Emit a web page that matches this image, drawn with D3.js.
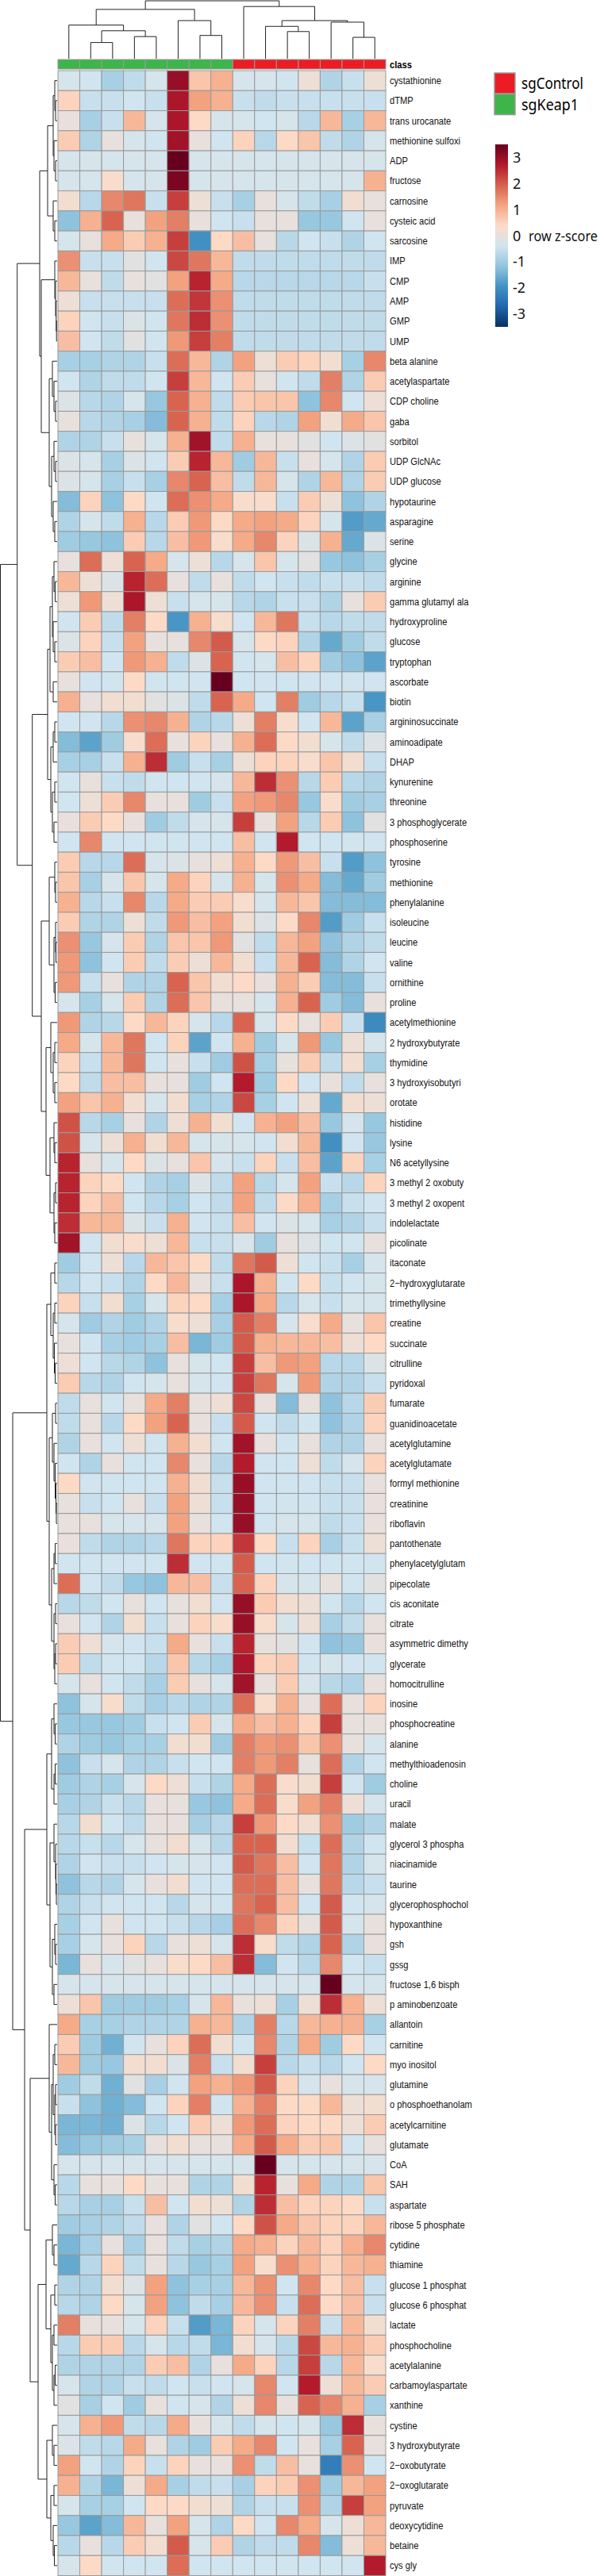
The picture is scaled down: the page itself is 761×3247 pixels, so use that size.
<!DOCTYPE html>
<html><head><meta charset="utf-8">
<script src="https://cdn.jsdelivr.net/npm/d3@7"></script>
<style>body{margin:0;background:#fff}svg{display:block}</style>
</head><body>
<svg id="chart" width="761" height="3247"></svg>
<script>
const rowLabels = ["cystathionine","dTMP","trans urocanate","methionine sulfoxi","ADP","fructose","carnosine","cysteic acid","sarcosine","IMP","CMP","AMP","GMP","UMP","beta alanine","acetylaspartate","CDP choline","gaba","sorbitol","UDP GlcNAc","UDP glucose","hypotaurine","asparagine","serine","glycine","arginine","gamma glutamyl ala","hydroxyproline","glucose","tryptophan","ascorbate","biotin","argininosuccinate","aminoadipate","DHAP","kynurenine","threonine","3 phosphoglycerate","phosphoserine","tyrosine","methionine","phenylalanine","isoleucine","leucine","valine","ornithine","proline","acetylmethionine","2 hydroxybutyrate","thymidine","3 hydroxyisobutyri","orotate","histidine","lysine","N6 acetyllysine","3 methyl 2 oxobuty","3 methyl 2 oxopent","indolelactate","picolinate","itaconate","2\u2212hydroxyglutarate","trimethyllysine","creatine","succinate","citrulline","pyridoxal","fumarate","guanidinoacetate","acetylglutamine","acetylglutamate","formyl methionine","creatinine","riboflavin","pantothenate","phenylacetylglutam","pipecolate","cis aconitate","citrate","asymmetric dimethy","glycerate","homocitrulline","inosine","phosphocreatine","alanine","methylthioadenosin","choline","uracil","malate","glycerol 3 phospha","niacinamide","taurine","glycerophosphochol","hypoxanthine","gsh","gssg","fructose 1,6 bisph","p aminobenzoate","allantoin","carnitine","myo inositol","glutamine","o phosphoethanolam","acetylcarnitine","glutamate","CoA","SAH","aspartate","ribose 5 phosphate","cytidine","thiamine","glucose 1 phosphat","glucose 6 phosphat","lactate","phosphocholine","acetylalanine","carbamoylaspartate","xanthine","cystine","3 hydroxybutyrate","2\u2212oxobutyrate","2\u2212oxoglutarate","pyruvate","deoxycytidine","betaine","cys gly"];

const colClass = ["sgKeap1","sgKeap1","sgKeap1","sgKeap1","sgKeap1","sgKeap1","sgKeap1","sgKeap1","sgControl","sgControl","sgControl","sgControl","sgControl","sgControl","sgControl"];
const classNames = ["sgControl","sgKeap1"];
const classColors = ["#ec1c24","#3db54a"];

const values = [
[-0.3,-0.4,-0.9,-0.6,-0.3,3.0,0.7,1.0,-0.3,-0.3,-0.4,0.1,-0.8,-0.5,0.1],
[0.5,-0.5,-0.5,-0.4,-0.5,2.8,1.2,1.0,-0.5,-0.6,-0.5,-0.5,-0.5,-0.5,-0.5],
[0,-0.9,-0.5,0.9,-0.3,2.8,0.4,-0.3,-0.3,-0.4,-0.3,-0.7,0.9,-0.9,0.9],
[0.6,-0.8,0,-0.3,-0.4,2.9,0,-0.4,0.5,-0.7,0.4,0.7,-0.6,-0.8,-0.3],
[-0.3,-0.3,-0.3,-0.3,-0.3,3.5,-0.3,-0.3,-0.3,-0.3,-0.3,-0.3,-0.3,-0.3,-0.3],
[-0.3,-0.3,0.3,-0.3,-0.3,3.3,-0.3,-0.3,-0.3,-0.3,-0.3,-0.3,-0.3,-0.3,1.0],
[0.2,-0.7,1.5,1.7,-0.5,2.3,0.1,-0.5,-0.9,0,-0.3,-0.6,-0.9,0.2,0],
[-1.2,1.0,1.9,0,1.2,1.6,0,-0.4,-0.5,0,0,-1.1,-1.1,-0.4,0],
[-0.3,0,1.1,0.6,1.0,2.3,-2.0,0.4,0.8,0,-0.7,-0.4,-0.5,-0.8,-0.4],
[1.4,-0.5,-0.5,-0.1,-0.4,2.2,1.7,0.9,-0.6,-0.6,-0.6,-0.6,-0.6,-0.6,-0.6],
[0.9,0,-0.6,0,-0.1,1.2,2.6,1.1,-0.7,-0.7,-0.7,-0.7,-0.7,-0.7,-0.5],
[0.1,-0.5,-0.5,-0.5,-0.5,1.8,2.4,1.4,-0.6,-0.6,-0.6,-0.6,-0.6,-0.6,-0.6],
[0.5,-0.4,-0.5,-0.2,-0.4,1.7,2.5,1.4,-0.6,-0.6,-0.6,-0.6,-0.6,-0.6,-0.6],
[0.8,-0.4,-0.6,-0.1,-0.4,1.3,2.3,1.6,-0.6,-0.6,-0.6,-0.6,-0.6,-0.6,-0.6],
[-0.9,-0.9,-0.8,-0.8,-0.5,1.8,0.9,-0.8,1.2,0.1,0.6,0.5,0.2,-0.9,1.5],
[-0.4,-0.8,-0.6,-0.6,-0.4,2.3,0.9,-0.4,0.6,0,-0.4,-0.6,1.6,-0.8,0.6],
[-0.2,-0.7,-0.8,-0.3,-1.1,1.9,1.0,-0.6,0.6,0.7,0.7,-1.2,1.5,-0.4,0.1],
[0,-0.7,-0.8,-0.9,-1.3,1.9,1.0,-0.6,0.5,-0.7,-0.8,1.2,0.2,1.1,0.7],
[-0.8,-0.8,-0.5,0,-0.3,1.0,2.9,-0.6,1.0,0,0,-0.1,-0.4,-0.2,-0.1],
[-0.2,-0.3,-0.9,-0.2,-0.4,0.6,2.6,0.9,-1.0,0.9,-0.5,0,-0.3,-0.8,0.6],
[-0.2,-0.3,-0.9,-0.5,-0.9,1.5,1.9,0.8,-0.6,0.9,-0.3,-0.8,0.9,-0.8,0.6],
[-1.3,0.5,-1.2,0.4,-0.4,1.8,1.4,1.1,0.3,0.3,-0.5,0.6,0.1,-1.2,-0.8],
[-0.8,-0.3,-0.6,1.0,-0.7,0.6,1.3,0.4,1.1,1.2,1.1,0.5,-0.3,-1.8,-1.6],
[-1.0,-1.1,-1.2,0.6,-0.7,0.8,1.3,0.3,1.1,1.5,0.5,-0.2,1.0,-1.6,-0.2],
[0,1.8,0.1,1.9,1.1,-0.3,0.1,-0.7,-0.3,0.7,-0.3,-0.1,-1.1,-1.2,-0.9],
[0.9,0.1,-0.2,2.6,1.8,0,-0.6,0,-0.6,-0.4,-0.5,-0.6,-0.5,-0.5,-0.6],
[0.1,1.3,0.1,2.8,0.1,-0.5,-0.3,-0.3,-0.7,-0.8,-0.5,-0.5,-0.8,0,0.6],
[-0.4,0.6,-0.6,1.6,0.4,-1.9,1.0,0.3,-0.4,0.9,1.7,-0.5,-0.7,-0.6,-0.6],
[-0.2,0.5,-0.5,1.2,0,0,1.5,2.0,-0.3,0.4,0.5,-0.8,-1.6,-1.0,-0.6],
[0.6,0.8,-0.4,1.3,1.0,-0.6,-0.2,1.9,-0.4,-0.3,0.8,0.5,-1.0,-1.2,-1.7],
[0,-0.4,-0.4,0.4,-0.4,-0.4,-0.4,3.5,-0.4,-0.4,-0.4,-0.4,-0.4,-0.4,-0.4],
[1.0,0,0.2,0.2,-0.1,-0.2,-0.6,1.9,1.1,-0.4,1.6,-1.0,-0.7,-0.5,-1.9],
[-0.4,-0.4,-0.7,1.4,1.5,1.0,-0.8,-0.7,0.1,1.6,0.3,-0.4,0.9,-1.7,-0.9],
[-1.3,-1.7,-1.0,0.3,1.8,0,0.5,0,1.0,1.8,0.4,0.2,-0.3,-0.6,-0.2],
[-0.9,-0.9,-0.5,1.0,2.5,-1.0,-0.5,-0.9,0.1,0.5,0.5,0.3,0.7,0.2,-0.5],
[-0.4,0,-0.5,-0.6,-0.4,-0.4,-0.4,-0.3,0.9,2.5,1.4,-0.7,0.6,-0.7,-0.8],
[-0.4,0.1,0.6,1.5,0,0,-1.0,-0.5,1.2,1.3,1.5,-1.1,0.3,-1.0,-0.9],
[0,0.6,0.4,0,-1.0,-0.6,-0.3,-0.3,2.3,0,1.2,-0.7,0.6,-1.2,-0.1],
[-0.4,1.5,-0.4,-0.4,-0.4,-0.4,-0.4,-0.4,0.8,-0.4,2.7,-0.4,-0.4,-0.4,-0.4],
[0.6,-0.7,-0.7,1.8,-0.3,-0.2,0,0.1,1.0,0.4,1.3,0.8,-0.5,-1.8,-1.2],
[0.7,-0.9,-0.3,0.7,-0.3,1.1,0.5,-0.3,1.0,-0.3,1.4,1.1,-1.3,-1.6,-1.0],
[1.0,-0.7,-0.5,1.5,-0.7,1.1,0.6,0.6,0.3,-0.3,0.9,0.7,-1.3,-1.3,-1.3],
[0.6,-0.8,-0.8,0.1,-0.6,1.3,0.8,1.2,0.2,-0.2,0.4,1.5,-1.8,-1.0,-0.5],
[1.4,-1.1,-0.3,0.6,-0.8,0.7,0.7,1.3,-0.1,-0.6,0.9,1.2,-1.2,-0.8,-0.6],
[1.3,-1.2,-0.4,0.6,-0.6,0.6,0.1,0.9,0.2,-0.5,0.9,1.9,-1.3,-0.8,-0.4],
[1.3,-0.5,0,-0.8,-0.8,1.9,0.7,0.2,0.4,0,1.0,0.6,-1.3,-1.3,-0.5],
[-0.3,-0.9,-0.3,0.6,-0.8,1.8,0.7,0,0,-0.3,1.0,1.9,-1.0,-1.3,0],
[1.3,-0.8,-0.7,0.4,0.9,0.5,-0.3,-0.7,1.9,-0.3,0.4,0,0.6,-0.5,-2.1],
[1.1,-0.3,0.9,1.7,-0.4,0.5,-1.7,-0.4,1.0,-1.0,-0.3,1.3,-1.1,0.1,-0.3],
[0.5,-0.5,0.9,1.7,-0.4,0,-0.5,-1.0,2.1,-0.9,0,0.6,-0.6,0.2,-0.9],
[0.4,-0.6,0.8,0.8,0,0,-1.0,-0.4,2.7,-1.0,0.4,-0.4,0,-0.6,0],
[1.2,0.7,1.0,0.2,-0.3,0.2,-0.9,-0.8,2.2,-0.9,-0.4,0.1,-1.6,0.2,0.1],
[2.1,-0.7,-0.9,0,-0.8,0.1,1.0,0.2,-0.4,1.0,1.2,0.8,-1.1,-0.3,-1.1],
[2.1,-0.3,0.1,1.0,0.2,0.9,-0.3,-0.3,-0.3,-0.4,0.2,0.9,-2.0,-0.4,-1.1],
[2.6,0,-0.3,0.4,-0.2,0,0.7,-0.3,-0.5,0.5,-0.5,0.8,-1.7,0.5,-0.9],
[2.6,0.5,0.4,-0.4,-0.8,-0.9,-0.2,-0.6,1.2,-0.7,-0.3,1.2,-0.5,-0.7,0.5],
[2.6,0.5,0.8,-0.4,-0.7,-0.9,-0.4,-0.6,1.2,-0.6,0.4,1.0,-0.9,-0.5,-0.4],
[2.5,0.9,0.9,-0.2,-0.5,1.0,-0.4,-0.5,0.8,-0.4,-0.2,-0.3,-0.9,-0.8,-0.5],
[2.9,-0.4,0.2,0.3,0.1,0.9,-0.5,-0.5,-0.3,-1.0,0,-0.2,-0.4,-0.4,0],
[-1.0,-0.4,0.1,-0.7,0.9,0.7,0.4,-0.6,1.7,2.0,0.1,-0.4,-0.5,-0.9,-0.3],
[-0.7,-0.4,-0.5,-0.8,0.4,0.9,0,-0.5,2.8,1.0,-0.4,0.4,-0.5,-0.4,-0.3],
[0.5,-0.5,0.2,-0.9,-0.3,0.5,0.4,-0.9,2.8,1.1,-0.7,-0.3,-0.5,-0.3,-0.3],
[-0.3,-1.0,-0.8,-1.0,-0.8,0.3,0.1,-0.9,2.0,1.6,-0.3,0.3,1.1,0,0.7],
[0,-0.4,-0.9,-1.0,-0.9,0.8,-1.4,-1.0,2.0,1.0,0.9,0.9,0.8,0.1,0.4],
[0.1,-0.4,-0.7,-0.8,-1.2,0,-0.3,-0.4,2.3,0.8,1.3,1.2,-0.7,-0.7,-0.2],
[0.6,-0.7,-0.8,-0.4,-0.3,0,-0.3,-0.4,2.3,1.7,-0.3,1.3,-0.8,-0.8,-0.5],
[-0.6,0,-0.4,0,1.1,1.6,0,0.1,2.2,0,-1.3,0,-1.2,-0.7,0.6],
[-0.6,0,-0.7,0.4,1.2,1.9,0,-0.5,2.0,-0.4,-0.6,-0.4,-1.2,-0.8,0.5],
[-0.8,0,-0.4,0.1,-0.4,1.0,0.2,-0.4,2.9,0,-0.4,0,-0.8,-0.8,0],
[-0.4,-0.8,0,-0.4,-0.4,1.5,0,-0.7,2.7,-0.4,-0.4,0.1,-0.6,-0.3,0.5],
[0.4,-0.4,-0.4,-0.4,-0.4,1.0,0.2,-0.5,3.0,-0.4,-0.4,-0.4,-0.5,-0.5,0],
[0,-0.5,-0.4,0,-0.5,1.2,0.1,-0.5,3.0,-0.4,-0.4,-0.4,-0.5,-0.5,0],
[0,0,-0.3,-0.3,-0.3,1.2,0,-0.4,3.0,-0.4,-0.3,-0.3,-0.6,-0.5,0],
[0,-0.6,-0.8,-0.8,-0.7,1.7,0.5,0.5,2.4,0.4,-0.5,0.5,-0.9,-0.5,0.1],
[-0.4,-0.4,-0.4,-0.4,-0.4,2.5,-0.4,-0.4,2.0,-0.4,-0.4,-0.4,-0.4,-0.4,-0.4],
[1.8,-0.4,-0.6,-1.1,-1.2,0.9,0.8,-0.5,1.9,0.5,-0.3,-0.3,0,-0.4,-0.1],
[-0.7,-0.6,-0.4,0,-0.4,0,0.2,-0.4,3.0,0.6,0.2,0.1,-0.4,-0.7,-0.4],
[0,-0.4,-0.8,0.2,-0.5,0,0.5,0.3,3.0,0.3,-0.3,0.1,-0.9,-0.6,0],
[0.6,0.1,-0.3,-0.4,-0.5,1.1,0,-0.5,2.6,0,-0.1,-0.4,-1.2,-1.1,0],
[0.6,-0.6,-0.4,-0.4,-0.7,0.7,-0.7,-0.9,2.8,0.5,0.6,-0.4,-0.3,-0.4,-0.4],
[-0.3,0,-0.4,-0.6,-0.9,0.6,0,-0.3,2.9,0,0.6,-0.3,-0.7,-0.8,0],
[-1.2,-0.3,0.3,-0.6,-0.9,-0.7,-0.8,-0.8,1.8,0.3,1.0,0,1.8,0,0.5],
[-1.1,-1.1,-1.1,-1.0,-0.5,-0.4,0.6,-0.3,1.1,0.8,1.0,0.5,2.3,0,0],
[-0.8,-1.0,-1.1,-0.9,-0.9,0.2,0.2,-1.0,1.6,1.3,1.4,0.7,1.4,0,-0.3],
[-1.2,-0.5,-0.3,-0.8,-0.8,-0.5,-0.4,-0.4,1.6,1.3,1.6,0,1.8,-0.8,-0.4],
[-1.0,-0.8,-0.9,-0.3,0.4,0.1,-0.5,-0.8,1.1,1.8,0.3,0.2,2.3,-0.4,-1.0],
[-0.9,-0.8,-0.5,-0.7,0,0,-1.1,-1.2,1.1,1.8,0.3,1.2,1.6,0.1,-0.3],
[-0.7,0.2,-0.4,-0.6,0,0,-0.9,-0.7,2.3,1.3,0.4,0.2,1.4,-1.0,-0.8],
[-0.7,-0.5,-0.7,-0.3,0,0.2,-0.3,-0.7,1.9,1.9,0.2,-0.5,1.8,-0.8,-0.4],
[-0.8,-0.4,-0.5,-0.5,-0.4,-0.3,-0.3,-0.4,2.0,1.7,0.8,-0.4,1.7,-0.8,-0.3],
[-1.2,-0.7,-0.8,-0.3,0,0.2,-0.4,-0.4,1.8,1.8,0.8,0,1.7,-0.7,-0.5],
[-0.8,-0.5,-0.4,-0.4,-0.4,-0.7,-0.3,-0.4,1.7,1.9,0.8,-0.4,2.0,-0.4,-0.3],
[-0.9,-0.4,0,-0.4,-0.4,-0.5,-0.7,-0.9,1.8,1.5,0.5,0,2.0,-0.3,0],
[-0.9,-0.3,0,0.5,-0.7,0,0.1,-0.3,2.5,0.3,-0.6,-0.8,1.9,-0.8,0],
[-1.4,0,-0.3,-0.1,0,0.3,0.4,0.8,2.5,-1.3,-0.4,-0.7,1.5,-0.4,-0.5],
[-0.3,-0.3,-0.3,-0.3,-0.3,-0.3,-0.3,-0.3,-0.3,-0.3,-0.3,-0.3,3.5,-0.3,-0.3],
[0.1,0.7,-1.0,-1.0,-1.0,-0.9,-0.3,0.9,0,0.1,-0.9,0.1,2.5,1.0,0.1],
[1.1,-0.9,-0.9,-0.8,-0.8,-0.8,1.0,0.9,-0.8,1.6,-0.7,0.9,1.0,1.0,-0.9],
[0.6,-1.0,-1.5,-0.4,0,0.5,1.8,0.2,-0.4,1.5,-0.8,1.1,-1.0,0.4,-0.4],
[0.9,-1.0,-1.1,0.2,0.2,-0.2,1.6,-0.5,0.2,2.3,-0.7,-0.5,-0.7,-0.4,0.4],
[-1.0,-0.6,-1.5,-0.1,-0.9,-0.4,1.2,1.0,1.3,2.0,0.5,-0.3,0,-0.3,-0.3],
[-0.5,-1.2,-1.5,-1.3,-0.4,0.5,1.6,-0.4,1.0,1.6,0.4,0.4,0.9,0.1,0.2],
[-1.4,-1.4,-1.5,-0.2,-0.7,-0.4,0.6,0.1,1.3,1.8,0.5,0.4,0.4,0.1,0.6],
[-1.3,-1.1,-1.0,-0.9,0,0.2,0,0,1.1,2.0,1.1,0.6,0.7,-0.4,0],
[-0.3,-0.3,-0.3,-0.3,-0.3,-0.3,-0.3,-0.3,-0.3,3.5,-0.3,-0.3,-0.3,-0.3,-0.3],
[-0.7,0,0,0.4,0,0,-0.8,-0.8,0.2,2.6,0,1.1,-0.8,-0.8,0.7],
[-0.7,-0.9,-0.9,-0.5,0.8,-0.4,0.2,0.1,-0.8,2.5,0.8,0.5,0.5,0.4,-0.5],
[-1.0,-0.9,-0.8,-0.6,0,-0.8,-0.1,-0.4,0.4,2.1,1.1,0.7,0.5,0.5,0.9],
[-1.4,-0.9,0,-0.9,0,-0.6,-0.9,-0.8,1.1,1.0,0.5,0.9,0.5,1.0,1.5],
[-1.6,-0.7,0.5,-0.6,0,-0.7,-1.1,-0.9,1.2,0.3,1.4,1.0,0.5,0.9,1.0],
[-0.8,-0.8,0.2,-0.2,1.2,-1.2,-0.9,-0.9,0.9,1.4,-0.4,1.5,0.4,0.8,-0.5],
[-0.7,-0.8,0.4,-0.3,1.2,-1.2,-0.6,-0.9,0.9,1.4,-0.5,1.8,0.4,0.8,-0.5],
[1.6,0,0,-0.3,0.5,-0.5,-1.8,-1.4,0.5,-0.3,0.5,1.6,-0.5,0.9,0.2],
[-0.7,0.6,0.6,-0.7,-0.3,-0.7,-0.6,-1.4,0.2,-0.3,-0.7,2.2,0.9,1.0,0.6],
[-0.8,-0.8,-0.8,-0.8,0.6,0.8,-0.8,0,1.1,0.5,-0.7,2.3,-0.7,0.9,0.3],
[-0.3,-0.8,-0.8,-0.5,-0.6,-0.4,-0.5,-0.4,-0.3,1.5,-0.4,2.7,0.1,0.9,0.6],
[-0.1,-0.9,-0.4,-1.0,0,-0.4,-0.3,-0.8,0.1,1.5,0,1.9,1.5,1.0,-0.9],
[-0.3,1.0,1.3,-0.6,-0.7,1.1,0,-0.3,-0.6,-0.3,-0.4,-0.3,-1.1,2.5,0],
[-0.2,-0.6,-0.7,1.1,0,-0.8,-1.0,0.6,1.1,1.5,-0.4,0,-0.9,1.9,0],
[1.2,-0.4,-0.8,0.5,-0.5,0.5,0,0,1.4,-0.6,0.8,0,-2.3,1.4,-0.4],
[1.0,-0.8,-1.4,0.1,1.1,-0.9,-0.6,-0.5,-0.9,0.5,0.6,1.4,-1.0,0.9,1.2],
[-0.3,-0.9,-0.9,-0.4,0.4,0.4,0.2,0.1,-0.8,-0.5,-0.5,1.4,-0.8,2.3,1.2],
[-1.1,-1.7,-1.3,0.9,0,1.2,-0.3,-0.8,0.4,-0.4,1.5,1.1,-0.3,0.1,0.9],
[-0.7,0,-0.7,0.6,0.2,2.0,-0.3,0.6,-0.8,-0.6,-0.6,1.5,-1.3,0.1,0.9],
[-0.3,0.4,-0.4,-0.4,-0.4,1.8,-0.4,-0.4,-0.4,-0.4,-0.4,-0.4,-0.4,-0.4,2.7]
];

// column dendrogram: [mergeHeight, left, right]; leaves are 1-based column numbers
const colTree = [74, [63, [43, 1, [35.7, [20.7, 2, 3], [28.3, 4, 5]]], [48.7, 6, [29.7, 7, 8]]],
                     [66.7, 9, [48.7, [41.3, 10, [34.7, 11, 12]], [46.7, 13, [27.3, 14, 15]]]]];

// row dendrogram sub-clusters (leaves are 1-based row numbers)
const rB1 = [12, [5, [3, 1, [2, 2, 3]], [4, 4, [2, 5, 6]]], [5, 7, [3, 8, 9]]];
const rG2 = [3, 10, [2, 11, [1.2, 12, [0.8, 13, 14]]]];
const rG3 = [10, [6, 15, [4, 16, [2, 17, 18]]], [7, [4, 19, [2, 20, 21]], [5, 22, [3, 23, 24]]]];
const rC1 = [12, [9, [6, [4, 25, [2.5, 26, 27]], [5, 28, [3, 29, 30]]], [5, 31, 32]], [8, [5, [3, 33, 34], 35], [6, [3, 36, 37], [4, 38, 39]]]];
const rC2a = [10, [3, 40, [2, 41, 42]], [4, [2, 43, [1.5, 44, 45]], [2.5, 46, 47]]];
const rC2b = [14, [8, 48, [5, [3, 49, 50], [3, 51, 52]]], [9, [4, 53, [3, 54, 55]], [4, [2, 56, 57], [3, 58, 59]]]];
const rE1 = [8, [3, 60, 61], [5, [3, 62, 63], [3.5, 64, [2.5, 65, 66]]]];
const rE2 = [10, [6, [2, 67, 68], [4, 69, [2.5, 70, [1.5, 71, [1, 72, 73]]]]], [7, [4, [2.5, 74, 75], 76], [4, [2, 77, 78], [3, [2, 79, 80], 81]]]];
const rF1 = [13, [7, [4, 82, [2.5, 83, 84]], [4, [2.5, 85, 86], 87]],
                 [9, [4, 88, [2, 89, [1.5, 90, [1, 91, 92]]]], [6, [3, 93, [2, 94, 95]], [4, 96, 97]]]];
const rG1 = [10, 98, [7, [5, [3, 99, 100], [3, [2, 101, 102], [2, 103, 104]]], [4, 105, [2.5, 106, 107]]]];
const rH = [24, [14, [6, 108, [4, 109, 110]], [8, [3, 111, 112], [6, [4, 113, 114], [4, [2.5, 115, 116], 117]]]], [13, [6, 118, [4, 119, 120]], [8, [4, 121, 122], [5, 123, [3.5, 124, 125]]]]];
const rowTree = [71.5, [50.3, [22, rB1, [20, rG2, rG3]], [31.3, rC1, [20, rC2a, rC2b]]],
                       [56, [13, rE1, rE2], [41, rF1, [34, rG1, rH]]]];

const legendTicks = [3, 2, 1, 0, -1, -2, -3];
const paletteStops = ["#053061","#2166AC","#4393C3","#92C5DE","#D1E5F0","#FDDBC7","#F4A582","#D6604D","#B2182B","#67001F"];
const zMax = 3.5;

const svg = d3.select("#chart");
svg.append("rect").attr("width", 761).attr("height", 3247).attr("fill", "#fff");

const nCol = colClass.length, nRow = rowLabels.length;
const x = d3.scaleBand().domain(d3.range(nCol)).range([73, 486]);
const y = d3.scaleBand().domain(d3.range(nRow)).range([89, 3246.5]);
const color = d3.scaleLinear()
  .domain(paletteStops.map((_, i) => -zMax + i * 2 * zMax / (paletteStops.length - 1)))
  .range(paletteStops).interpolate(d3.interpolateRgb).clamp(true);
const classColor = d3.scaleOrdinal().domain(classNames).range(classColors);

// heatmap cells
const cells = [];
values.forEach((row, r) => row.forEach((v, c) => cells.push({r, c, v})));
svg.append("g").selectAll("rect").data(cells).join("rect")
  .attr("x", d => x(d.c)).attr("y", d => y(d.r))
  .attr("width", x.bandwidth()).attr("height", y.bandwidth())
  .attr("fill", d => color(d.v)).attr("stroke", "#9a9a9a").attr("stroke-width", 1);

// class bar
svg.append("g").selectAll("rect").data(colClass).join("rect")
  .attr("x", (d, i) => x(i)).attr("y", 75).attr("width", x.bandwidth()).attr("height", 12)
  .attr("fill", d => classColor(d)).attr("stroke", "#9a9a9a").attr("stroke-width", 1);
svg.append("text")
  .attr("transform", "translate(491,85.5) scale(0.89,1)")
  .attr("font-family", "Liberation Sans, Arial, sans-serif").attr("font-size", 12.5).attr("font-weight", "bold")
  .text("class");

// row labels
svg.append("g").selectAll("text").data(rowLabels).join("text")
  .attr("transform", (d, i) => `translate(491,${y(i) + y.bandwidth() / 2 + 4.5}) scale(0.89,1)`)
  .attr("font-family", "Liberation Sans, Arial, sans-serif").attr("font-size", 12.5).attr("fill", "#111")
  .text(d => d);

// dendrogram layout
function layout(tree, band) {
  const root = d3.hierarchy(tree, d => Array.isArray(d) ? [d[1], d[2]] : null);
  root.eachAfter(n => {
    if (!n.children) { n.pos = band(n.data - 1) + band.bandwidth() / 2; n.h = 0; }
    else { n.pos = (n.children[0].pos + n.children[1].pos) / 2; n.h = n.data[0]; }
  });
  return root;
}

// row dendrogram
const rRoot = layout(rowTree, y);
const hx = d3.scaleLinear().domain([0, rowTree[0]]).range([72, 0.5]);
svg.append("g").selectAll("path").data(rRoot.descendants().filter(n => n.children)).join("path")
  .attr("d", n => {
    const [a, b] = n.children;
    return `M${hx(a.h)},${a.pos}H${hx(n.h)}V${b.pos}H${hx(b.h)}`;
  })
  .attr("fill", "none").attr("stroke", "#222").attr("stroke-width", 1);

// column dendrogram
const cRoot = layout(colTree, x);
const hy = d3.scaleLinear().domain([0, colTree[0]]).range([74, 1]);
svg.append("g").selectAll("path").data(cRoot.descendants().filter(n => n.children)).join("path")
  .attr("d", n => {
    const [a, b] = n.children;
    return `M${a.pos},${hy(a.h)}V${hy(n.h)}H${b.pos}V${hy(b.h)}`;
  })
  .attr("fill", "none").attr("stroke", "#222").attr("stroke-width", 1);

// class legend
const lg = svg.append("g");
lg.selectAll("rect").data(classNames).join("rect")
  .attr("x", 623).attr("y", (d, i) => 92 + i * 26.5).attr("width", 26).attr("height", 26)
  .attr("fill", d => classColor(d)).attr("stroke", "#9a9a9a").attr("stroke-width", 1.5);
lg.selectAll("text").data(classNames).join("text")
  .attr("x", 657).attr("y", (d, i) => 112 + i * 26.5)
  .attr("font-family", "Noto Sans, Open Sans, sans-serif").attr("font-size", 19)
  .attr("textLength", d => d === "sgControl" ? 78 : 72).attr("lengthAdjust", "spacingAndGlyphs")
  .text(d => d);

// color key
const ky = d3.scaleLinear().domain([-zMax, zMax]).range([412, 182]);
const grad = svg.append("defs").append("linearGradient").attr("id", "zgrad")
  .attr("x1", 0).attr("y1", 1).attr("x2", 0).attr("y2", 0);
grad.selectAll("stop").data(d3.range(0, 1.0001, 0.02)).join("stop")
  .attr("offset", d => d).attr("stop-color", d => color(-zMax + d * 2 * zMax));
svg.append("rect").attr("x", 624).attr("y", ky(zMax)).attr("width", 16).attr("height", ky(-zMax) - ky(zMax))
  .attr("fill", "url(#zgrad)");
svg.append("g").selectAll("text").data(legendTicks).join("text")
  .attr("x", 646).attr("y", d => ky(d) + 6.5)
  .attr("font-family", "Noto Sans, Open Sans, sans-serif").attr("font-size", 18).attr("fill", "#111")
  .text(d => d < 0 ? "-" + Math.abs(d) : String(d));
svg.append("text").attr("x", 666).attr("y", ky(0) + 6.5)
  .attr("font-family", "Noto Sans, Open Sans, sans-serif").attr("font-size", 18).attr("fill", "#111")
  .attr("textLength", 87).attr("lengthAdjust", "spacingAndGlyphs")
  .text("row z-score");
</script>
</body></html>
